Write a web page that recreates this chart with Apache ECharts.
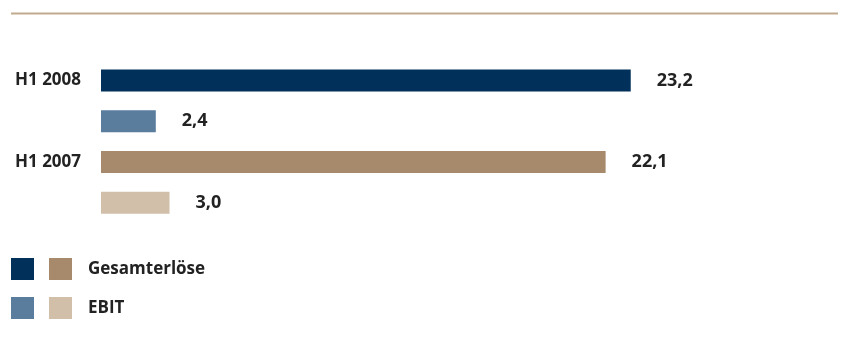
<!DOCTYPE html>
<html><head><meta charset="utf-8">
<script src="https://cdn.jsdelivr.net/npm/echarts@6/dist/echarts.min.js"></script>
<style>html,body{margin:0;padding:0;background:#fff}#c{width:845px;height:361px}</style>
</head><body><div id="c"></div>
<script>
const periods = ['H1 2008', 'H1 2007'];
const metrics = ['Gesamterlöse', 'EBIT'];
const revenue = [23.2, 22.1];
const ebit = [2.4, 3.0];
const colors = [['#01315a', '#5a7d9e'], ['#a68a6b', '#d2bfa9']];

const FONT = '"Open Sans", "Noto Sans", sans-serif';
const values = [revenue, ebit];
const rows = [];
periods.forEach((p, pi) => metrics.forEach((m, mi) => rows.push({p, pi, m, mi})));
const cats = rows.map(r => r.p + ' ' + r.m);

const series = rows.map((r, ri) => ({
  type: 'bar',
  name: r.p + '|' + r.m,
  barWidth: 22,
  barGap: '-100%',
  itemStyle: {color: colors[r.pi][r.mi]},
  label: {
    show: true, position: 'right', distance: 26,
    fontFamily: FONT, fontWeight: 'bold', fontSize: 18, color: '#222',
    formatter: d => d.value.toFixed(1).replace('.', ',')
  },
  data: rows.map((_, k) => k === ri ? values[r.mi][r.pi] : '-')
}));

const chart = echarts.init(document.getElementById('c'));
chart.setOption({
  animation: false,
  grid: {left: 101, top: 60, width: 685, height: 163},
  xAxis: {type: 'value', min: 0, max: 30, show: false},
  yAxis: {
    type: 'category', inverse: true, data: cats,
    axisLine: {show: false}, axisTick: {show: false},
    axisLabel: {
      align: 'left', margin: 86,
      fontFamily: FONT, fontWeight: 'bold', fontSize: 17, color: '#222',
      formatter: (v, i) => rows[i].mi === 0 ? rows[i].p : ''
    }
  },
  legend: [
    {
      data: [periods[0] + '|' + metrics[0], periods[0] + '|' + metrics[1]],
      left: 11, top: 258, padding: 0, orient: 'vertical', icon: 'rect',
      itemWidth: 23, itemHeight: 22, itemGap: 17, selectedMode: false,
      formatter: () => ''
    },
    {
      data: [periods[1] + '|' + metrics[0], periods[1] + '|' + metrics[1]],
      left: 49, top: 258, padding: 0, orient: 'vertical', icon: 'rect',
      itemWidth: 23, itemHeight: 22, itemGap: 17, selectedMode: false,
      formatter: n => n.split('|')[1],
      textStyle: {fontFamily: FONT, fontWeight: 'bold', fontSize: 17, color: '#222', padding: [3, 0, 0, 11]}
    }
  ],
  graphic: [{
    type: 'line', shape: {x1: 11, y1: 13.5, x2: 838, y2: 13.5},
    style: {stroke: '#c1ab8f', lineWidth: 2}
  }],
  series
});
</script></body></html>
